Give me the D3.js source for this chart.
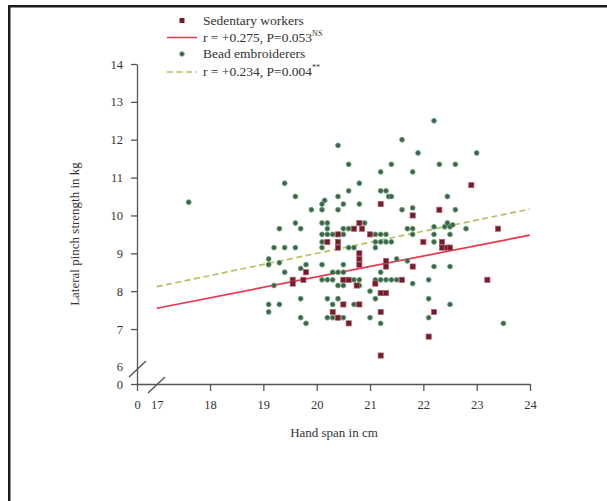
<!DOCTYPE html>
<html>
<head>
<meta charset="utf-8">
<script src="https://cdn.jsdelivr.net/npm/d3@7"></script>
<style>
  body { margin: 0; background: #fff; }
  svg { display: block; }
  .axis path, .axis line { stroke: #555; stroke-width: 1.3; }
  .axis text { font-family: 'Liberation Serif', serif; font-size: 12.5px; fill: #333; }
  .label { font-family: 'Liberation Serif', serif; font-size: 13px; fill: #333; }
  .legend { font-family: 'Liberation Serif', serif; font-size: 13.5px; fill: #333; }
</style>
</head>
<body>
<div id="content"></div>
<script>
// hand span (cm), lateral pinch strength (kg)
const sedentary = [
  [19.55,8.3],[19.55,8.2],[19.75,8.3],[19.8,8.5],
  [20.2,9.3],[20.4,9.5],[20.4,9.3],[20.4,9.15],
  [20.5,8.3],[20.6,8.3],[20.5,7.65],[20.3,7.45],[20.4,7.3],[20.6,7.15],
  [20.7,9.65],[20.85,9.65],[20.8,9.8],
  [20.8,9.0],[20.8,8.85],[20.8,8.7],[20.8,7.65],[20.75,8.15],
  [21.0,9.5],[21.1,8.2],
  [21.2,10.3],[21.2,7.95],[21.3,7.95],[21.2,7.45],[21.2,6.3],
  [21.3,8.8],[21.3,8.65],
  [21.6,8.3],
  [21.8,10.0],[21.8,8.65],
  [22.0,9.3],
  [22.1,6.8],
  [22.2,7.45],
  [22.3,10.15],
  [22.35,9.3],[22.35,9.15],[22.45,9.15],[22.5,9.15],
  [22.9,10.8],
  [23.2,8.3],
  [23.4,9.65]
];

const bead = [
  [17.6,10.35],
  [19.1,8.85],[19.1,8.7],[19.1,7.65],[19.1,7.45],
  [19.2,9.15],[19.2,8.15],
  [19.3,9.65],[19.3,8.75],[19.3,7.65],
  [19.4,10.85],[19.4,9.15],[19.4,8.5],
  [19.6,10.5],[19.6,9.8],[19.6,9.15],
  [19.7,9.65],[19.7,8.6],[19.7,7.8],[19.7,7.3],
  [19.8,8.7],[19.8,7.15],
  [19.9,10.15],
  [20.1,10.3],[20.1,10.15],[20.1,9.8],[20.1,9.5],[20.1,9.3],[20.1,9.15],[20.1,8.7],[20.1,8.3],
  [20.15,10.4],
  [20.2,9.8],[20.2,9.65],[20.2,9.5],[20.2,9.3],[20.2,8.3],[20.2,7.8],[20.2,7.3],
  [20.3,9.5],[20.3,8.5],[20.3,8.3],[20.3,7.65],[20.3,7.3],
  [20.4,11.85],[20.4,10.5],[20.4,10.15],[20.4,8.5],[20.4,8.15],[20.4,7.8],
  [20.5,10.3],[20.5,9.65],[20.5,9.5],[20.5,8.7],[20.5,8.5],[20.5,8.15],[20.5,7.3],
  [20.6,11.35],[20.6,10.65],[20.6,9.65],[20.6,9.15],
  [20.7,9.15],[20.7,8.3],[20.7,7.65],
  [20.8,10.85],[20.8,10.3],[20.8,8.3],[20.8,8.15],
  [20.9,9.8],
  [21.0,8.0],[21.0,7.3],
  [21.1,9.5],[21.1,9.3],[21.1,9.15],[21.1,8.3],[21.1,7.8],
  [21.2,11.15],[21.2,10.65],[21.2,9.5],[21.2,9.3],[21.2,8.5],[21.2,8.3],[21.2,7.15],
  [21.3,10.65],[21.3,9.5],[21.3,9.3],[21.3,8.3],
  [21.35,10.5],[21.4,10.5],[21.4,11.35],[21.4,9.3],[21.4,8.3],
  [21.5,8.85],[21.5,8.3],
  [21.6,12.0],[21.6,10.15],
  [21.7,9.65],[21.7,8.8],
  [21.8,11.15],[21.8,10.2],[21.8,9.65],[21.8,9.5],[21.8,8.2],
  [21.9,11.65],
  [22.1,8.3],[22.1,7.8],[22.1,7.3],
  [22.2,12.5],[22.2,9.7],[22.2,9.5],[22.2,9.3],[22.2,8.65],
  [22.3,11.35],
  [22.4,9.7],
  [22.45,10.5],[22.45,9.8],
  [22.5,9.7],[22.5,9.5],[22.5,8.65],[22.5,7.65],
  [22.55,9.75],
  [22.6,11.35],[22.6,10.15],
  [22.8,9.65],
  [23.0,11.65],
  [23.5,7.15]
];

// fitted lines (end points at 17 and 24 cm)
const sedFit = [[17, 7.55], [24, 9.48]];
const beadFit = [[17, 8.12], [24, 10.17]];

const xTicks = [0, 17, 18, 19, 20, 21, 22, 23, 24];
const yTicks = [0, 6, 7, 8, 9, 10, 11, 12, 13, 14];

const legendRows = [
  {kind: 'square', text: 'Sedentary workers', sup: ''},
  {kind: 'solid', text: 'r = +0.275, P=0.053', sup: 'NS'},
  {kind: 'dot', text: 'Bead embroiderers', sup: ''},
  {kind: 'dash', text: 'r = +0.234, P=0.004', sup: '**'}
];

const RED = '#e8364e';
const GREEN = '#afc563';

var width = 607;
var height = 501;

var svg = d3.select('#content')
  .append('svg')
  .attr('width', width)
  .attr('height', height);

// frame (only top and left edges show in the scan)
svg.append('rect').attr('x', 8).attr('y', 5).attr('width', width - 8).attr('height', 2.5).attr('fill', '#1b1b1b');
svg.append('rect').attr('x', 8).attr('y', 5).attr('width', 2.5).attr('height', height - 5).attr('fill', '#1b1b1b');

// broken scales: 0 then jump to 17 / 6
var x = d3.scaleLinear().domain([0, 17, 24]).range([137, 156.7, 530]);
var y = d3.scaleLinear().domain([0, 6, 14]).range([384, 366.9, 64]);

var xAxis = d3.axisBottom(x).tickValues(xTicks).tickSizeInner(7).tickSizeOuter(0).tickPadding(9);
var yAxis = d3.axisLeft(y).tickValues(yTicks).tickSizeInner(6).tickSizeOuter(0).tickPadding(8);

var gx = svg.append('g').attr('class', 'axis').attr('transform', 'translate(0,' + y(0) + ')').call(xAxis);
var gy = svg.append('g').attr('class', 'axis').attr('transform', 'translate(' + x(0) + ',0)').call(yAxis);

// no tick marks where the breaks are
gx.selectAll('.tick').filter(d => d === 17).select('line').remove();
gy.selectAll('.tick').filter(d => d === 6).select('line').remove();

// break marks
svg.append('line').attr('x1', 129).attr('y1', 377).attr('x2', 146).attr('y2', 361)
  .attr('stroke', '#555').attr('stroke-width', 1.3);
svg.append('line').attr('x1', 148).attr('y1', 393).attr('x2', 165).attr('y2', 377)
  .attr('stroke', '#555').attr('stroke-width', 1.3);

// axis titles
svg.append('text').attr('class', 'label')
  .attr('x', 334).attr('y', 437)
  .attr('text-anchor', 'middle')
  .text('Hand span in cm');

svg.append('text').attr('class', 'label')
  .attr('transform', 'translate(79,234) rotate(-90)')
  .attr('text-anchor', 'middle')
  .text('Lateral pinch strength in kg');

// fitted lines
var line = d3.line().x(d => x(d[0])).y(d => y(d[1]));

svg.append('path').attr('d', line(sedFit))
  .attr('fill', 'none').attr('stroke', RED).attr('stroke-width', 1.7);
svg.append('path').attr('d', line(beadFit))
  .attr('fill', 'none').attr('stroke', GREEN).attr('stroke-width', 1.7)
  .attr('stroke-dasharray', '6,3.5');

// points
svg.selectAll('.bead')
  .data(bead)
  .enter()
  .append('circle')
  .attr('class', 'bead')
  .attr('cx', d => x(d[0]))
  .attr('cy', d => y(d[1]))
  .attr('r', 2.4)
  .attr('fill', '#4b5a50')
  .attr('stroke', '#55a86a')
  .attr('stroke-width', 0.9);

svg.selectAll('.sed')
  .data(sedentary)
  .enter()
  .append('rect')
  .attr('class', 'sed')
  .attr('x', d => x(d[0]) - 2.6)
  .attr('y', d => y(d[1]) - 2.6)
  .attr('width', 5.2)
  .attr('height', 5.2)
  .attr('fill', '#6e1f2c')
  .attr('stroke', '#b85a68')
  .attr('stroke-width', 0.7);

// legend
var lg = svg.append('g').attr('transform', 'translate(167,20.5)');
var rowY = [0, 17, 33.5, 51.5];

legendRows.forEach(function (r, i) {
  var cy = rowY[i];
  if (r.kind === 'square') {
    lg.append('rect').attr('x', 12.5).attr('y', cy - 2.5).attr('width', 5).attr('height', 5).attr('fill', '#6e1f2c');
  } else if (r.kind === 'dot') {
    lg.append('circle').attr('cx', 15).attr('cy', cy).attr('r', 2.3).attr('fill', '#4b5a50').attr('stroke', '#55a86a').attr('stroke-width', 0.8);
  } else {
    lg.append('line').attr('x1', 0).attr('x2', 30).attr('y1', cy).attr('y2', cy)
      .attr('stroke', r.kind === 'solid' ? RED : GREEN)
      .attr('stroke-width', 1.5)
      .attr('stroke-dasharray', r.kind === 'dash' ? '6,3.5' : null);
  }
  var t = lg.append('text').attr('class', 'legend')
    .attr('x', 36).attr('y', cy + 4)
    .text(r.text);
  if (r.sup) {
    t.append('tspan').attr('dy', -6).attr('font-size', '8px').text(r.sup);
  }
});
</script>
</body>
</html>
